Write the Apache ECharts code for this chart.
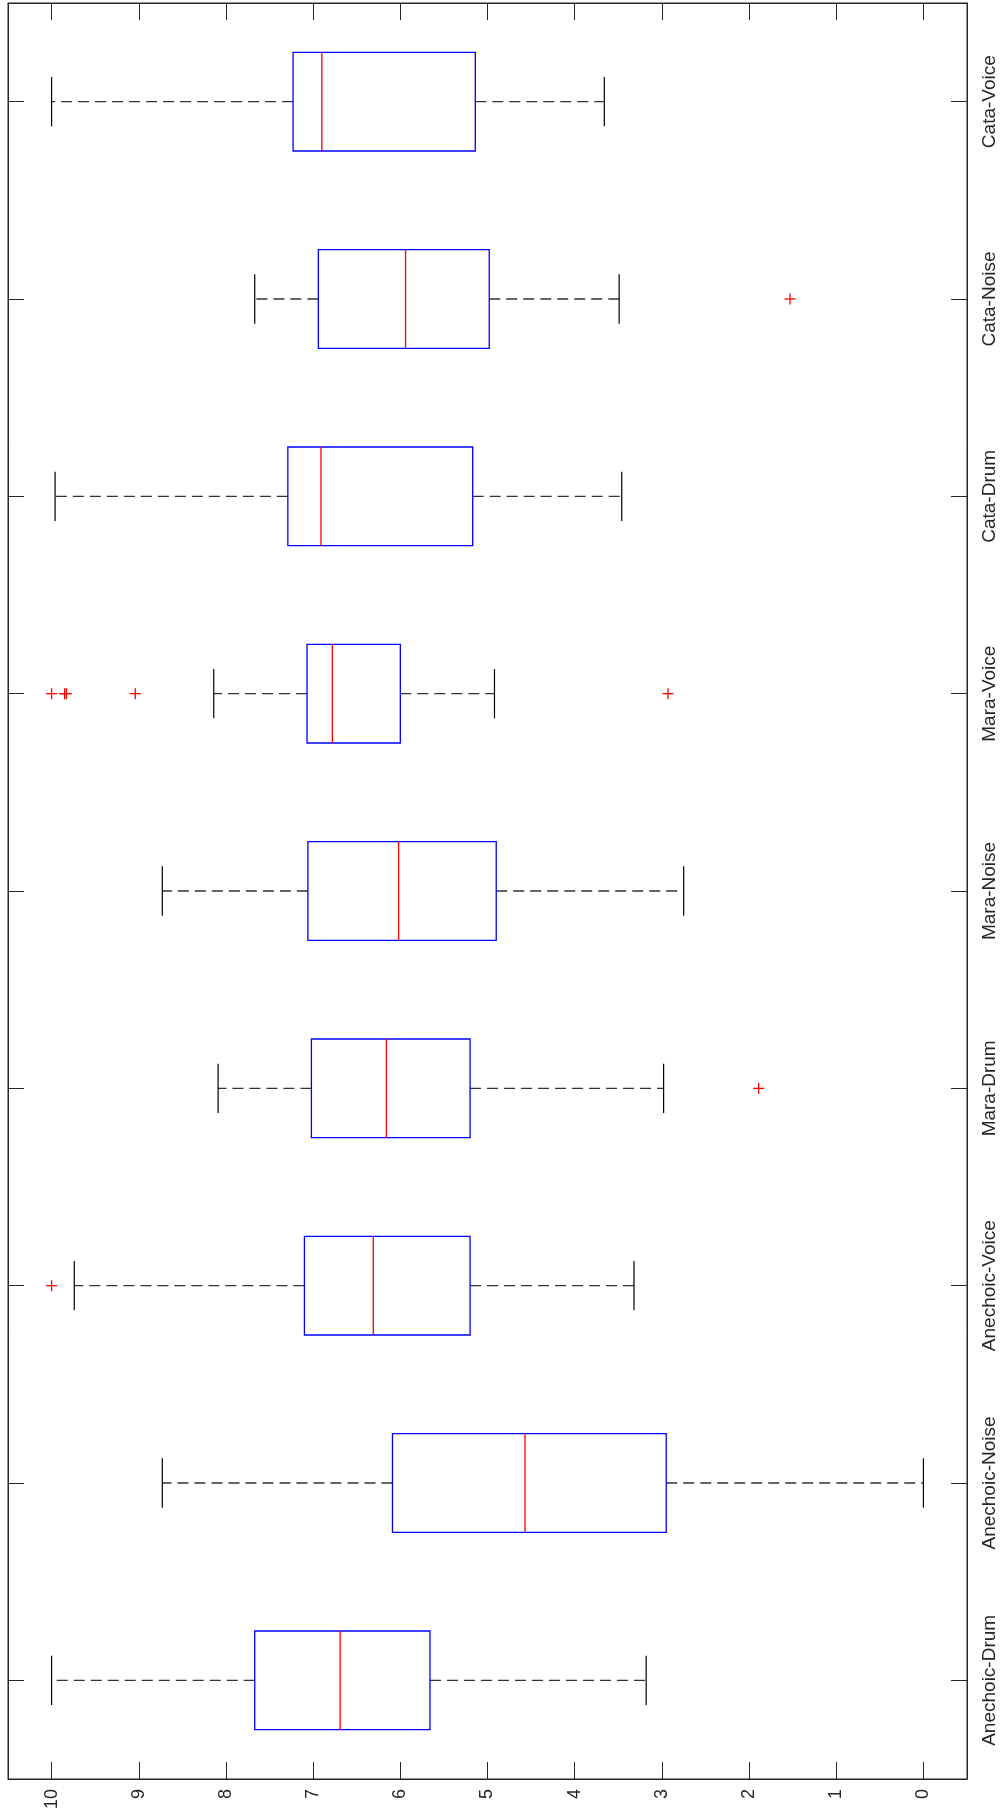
<!DOCTYPE html>
<html>
<head>
<meta charset="utf-8">
<script src="https://cdn.jsdelivr.net/npm/echarts@6/dist/echarts.min.js"></script>
<style>
html,body{margin:0;padding:0;background:#fff;}
#chart{width:1001px;height:1814px;}
</style>
</head>
<body>
<div id="chart"></div>
<script>
// Categories, bottom to top
const categories = ['Anechoic-Drum','Anechoic-Noise','Anechoic-Voice','Mara-Drum','Mara-Noise','Mara-Voice','Cata-Drum','Cata-Noise','Cata-Voice'];
const lowerWhisker = [3.18, 0.00, 3.32, 2.98, 2.75, 4.92, 3.46, 3.49, 3.66];
const q1Values     = [5.66, 2.95, 5.20, 5.20, 4.90, 6.00, 5.17, 4.98, 5.14];
const medianValues = [6.69, 4.57, 6.31, 6.16, 6.02, 6.78, 6.91, 5.94, 6.90];
const q3Values     = [7.67, 6.09, 7.10, 7.02, 7.06, 7.07, 7.29, 6.94, 7.23];
const upperWhisker = [10.00, 8.73, 9.74, 8.09, 8.73, 8.14, 9.96, 7.67, 10.00];
// outliers: [category, value]
const outliers = [
  ['Anechoic-Voice', 10.00],
  ['Mara-Drum', 1.89],
  ['Mara-Voice', 10.00],
  ['Mara-Voice', 9.85],
  ['Mara-Voice', 9.83],
  ['Mara-Voice', 9.04],
  ['Mara-Voice', 2.93],
  ['Cata-Noise', 1.53]
];
const valueTicks = [0,1,2,3,4,5,6,7,8,9,10];

const boxData = categories.map((c, i) => [i, lowerWhisker[i], q1Values[i], medianValues[i], q3Values[i], upperWhisker[i]]);
const outlierData = outliers.map(o => [o[1], categories.indexOf(o[0])]);

const axisColor = '#262626';
const fontFam = '"Liberation Sans", Arial, Helvetica, sans-serif';

function renderBox(params, api) {
  const cat = api.value(0);
  const lo = api.value(1), q1 = api.value(2), md = api.value(3), q3 = api.value(4), hi = api.value(5);
  const band = api.size([0, 1])[1];
  const hw = band * 0.25;
  const cw = band * 0.125;
  const pLo = api.coord([lo, cat]);
  const pQ1 = api.coord([q1, cat]);
  const pMd = api.coord([md, cat]);
  const pQ3 = api.coord([q3, cat]);
  const pHi = api.coord([hi, cat]);
  const y = pMd[1];
  const dashStyle = {stroke: '#333', lineWidth: 1.4, lineDash: [11, 6]};
  const solid = {stroke: '#000', lineWidth: 1.2};
  const children = [
    {type: 'line', shape: {x1: pQ3[0], y1: y, x2: pHi[0], y2: y}, style: dashStyle},
    {type: 'line', shape: {x1: pQ1[0], y1: y, x2: pLo[0], y2: y}, style: dashStyle},
    {type: 'line', shape: {x1: pHi[0], y1: y - cw, x2: pHi[0], y2: y + cw}, style: solid},
    {type: 'line', shape: {x1: pLo[0], y1: y - cw, x2: pLo[0], y2: y + cw}, style: solid},
    {type: 'rect', shape: {x: Math.min(pQ1[0], pQ3[0]), y: y - hw, width: Math.abs(pQ1[0] - pQ3[0]), height: hw * 2},
      style: {fill: 'none', stroke: '#0000ff', lineWidth: 1.3}},
    {type: 'line', shape: {x1: pMd[0], y1: y - hw, x2: pMd[0], y2: y + hw}, style: {stroke: '#ff0000', lineWidth: 1.3}}
  ];
  return {type: 'group', children: children};
}

function renderOutlier(params, api) {
  const p = api.coord([api.value(0), api.value(1)]);
  const s = 5.5;
  return {type: 'group', children: [
    {type: 'line', shape: {x1: p[0] - s, y1: p[1], x2: p[0] + s, y2: p[1]}, style: {stroke: '#ff0000', lineWidth: 1.3}},
    {type: 'line', shape: {x1: p[0], y1: p[1] - s, x2: p[0], y2: p[1] + s}, style: {stroke: '#ff0000', lineWidth: 1.3}}
  ]};
}

const chart = echarts.init(document.getElementById('chart'), null, {renderer: 'canvas'});
const valueAxisBase = {
  type: 'value', min: -0.5, max: 10.5, inverse: true,
  splitLine: {show: false},
  axisLine: {show: true, onZero: false, lineStyle: {color: axisColor, width: 1}}
};
chart.setOption({
  animation: false,
  backgroundColor: '#fff',
  grid: {left: 8, top: 3, width: 959, height: 1776, show: true, borderColor: axisColor, borderWidth: 1, containLabel: false},
  xAxis: [
    Object.assign({}, valueAxisBase, {
      position: 'bottom',
      axisTick: {show: true, inside: true, length: 17, customValues: valueTicks, lineStyle: {color: axisColor}},
      axisLabel: {show: true, rotate: 90, margin: 10, customValues: valueTicks, color: axisColor, fontSize: 18, fontFamily: fontFam}
    }),
    Object.assign({}, valueAxisBase, {
      position: 'top',
      axisTick: {show: true, inside: true, length: 17, customValues: valueTicks, lineStyle: {color: axisColor}},
      axisLabel: {show: false}
    })
  ],
  yAxis: [
    {
      type: 'category', data: categories, position: 'right', boundaryGap: true,
      axisLine: {show: true, onZero: false, lineStyle: {color: axisColor}},
      axisTick: {show: true, inside: true, length: 16, alignWithLabel: true, lineStyle: {color: axisColor}},
      axisLabel: {show: true, rotate: 90, margin: 13, color: axisColor, fontSize: 19, fontFamily: fontFam},
      splitLine: {show: false}
    },
    {
      type: 'category', data: categories, position: 'left', boundaryGap: true,
      axisLine: {show: true, onZero: false, lineStyle: {color: axisColor}},
      axisTick: {show: true, inside: true, length: 16, alignWithLabel: true, lineStyle: {color: axisColor}},
      axisLabel: {show: false},
      splitLine: {show: false}
    }
  ],
  series: [
    {
      type: 'custom', name: 'box', xAxisIndex: 0, yAxisIndex: 0,
      renderItem: renderBox,
      encode: {x: [1, 2, 3, 4, 5], y: 0},
      data: boxData, silent: true
    },
    {
      type: 'custom', name: 'outliers', xAxisIndex: 0, yAxisIndex: 0,
      renderItem: renderOutlier,
      encode: {x: 0, y: 1},
      data: outlierData, silent: true
    }
  ]
});
</script>
</body>
</html>
